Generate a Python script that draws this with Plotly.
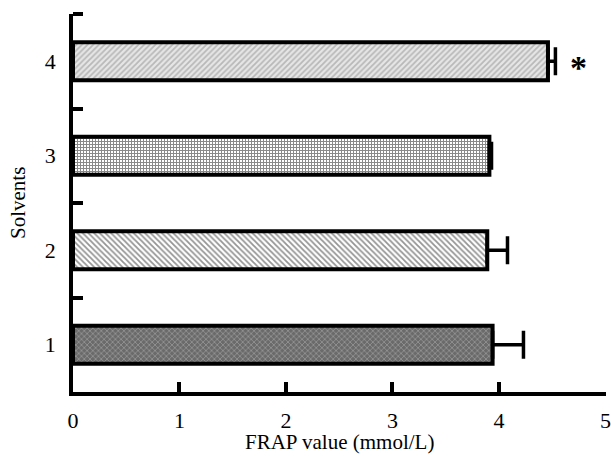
import plotly.graph_objects as go

categories = ["1", "2", "3", "4"]
positions = [1, 2, 3, 4]
frap_values = [3.94, 3.89, 3.91, 4.46]
frap_errors = [0.29, 0.19, 0.02, 0.07]
x_ticks = [0, 1, 2, 3, 4, 5]
significance = "*"
x_title = "FRAP value (mmol/L)"
y_title = "Solvents"

patterns = [
    dict(shape="x", fgcolor="#c8c8c8", bgcolor="#6a6a6a", size=4, solidity=0.35),
    dict(shape="\\", fgcolor="#2a2a2a", bgcolor="#ffffff", size=4, solidity=0.45),
    dict(shape="+", fgcolor="#111111", bgcolor="#ffffff", size=3, solidity=0.55),
    dict(shape="/", fgcolor="#8a8a8a", bgcolor="#e6e6e6", size=4, solidity=0.45),
]

fig = go.Figure()
for i in range(len(positions)):
    p = patterns[i]
    fig.add_trace(go.Bar(
        x=[frap_values[i]], y=[positions[i]], orientation="h", width=0.4,
        marker=dict(
            color=p["bgcolor"],
            line=dict(color="black", width=4),
            pattern=dict(shape=p["shape"], fgcolor=p["fgcolor"], bgcolor=p["bgcolor"],
                         size=p["size"], solidity=p["solidity"], fillmode="overlay"),
        ),
        error_x=dict(type="data", array=[frap_errors[i]], symmetric=False,
                     color="black", thickness=3.5, width=14),
        showlegend=False,
    ))

fig.add_annotation(x=frap_values[3] + frap_errors[3] + 0.22, y=4, text="<b>" + significance + "</b>",
                   showarrow=False, font=dict(family="Liberation Serif", size=34, color="black"),
                   xref="x", yref="y", yshift=-6)

font = dict(family="Liberation Serif", size=21, color="black")
fig.add_annotation(x=0.5, y=0, xref="paper", yref="paper", text=x_title, showarrow=False,
                   font=font, yanchor="middle", yshift=-50)
fig.add_annotation(x=0, y=0.5, xref="paper", yref="paper", text=y_title, showarrow=False,
                   font=font, xanchor="center", textangle=-90, xshift=-55)

fig.update_layout(
    width=611, height=456,
    margin=dict(l=73, r=5, t=14, b=64),
    plot_bgcolor="white", paper_bgcolor="white",
    font=font,
    barmode="overlay",
)
fig.update_xaxes(
    range=[0, 5.005], tickvals=x_ticks, ticktext=[str(v) for v in x_ticks],
    ticks="inside", ticklen=10, tickwidth=3.5, tickcolor="black",
    showline=True, linewidth=3.5, linecolor="black", showgrid=False, zeroline=False,
    ticklabelstandoff=6, tickfont=dict(family="Liberation Serif", size=22),
    ticklabeloverflow="allow",
    automargin=False,
)
fig.update_yaxes(
    range=[0.5, 4.5], tickvals=positions, ticktext=categories,
    ticks="", ticklabelstandoff=9, tickfont=dict(family="Liberation Serif", size=22),
    minor=dict(tickvals=[1.5, 2.5, 3.5, 4.5], ticks="inside", ticklen=10,
               tickwidth=3.5, tickcolor="black", showgrid=False),
    showline=True, linewidth=3.5, linecolor="black", showgrid=False, zeroline=False,
    automargin=False,
)

fig.write_html("out.html", config={"displayModeBar": False},
               post_script="document.body.style.margin='0';")
